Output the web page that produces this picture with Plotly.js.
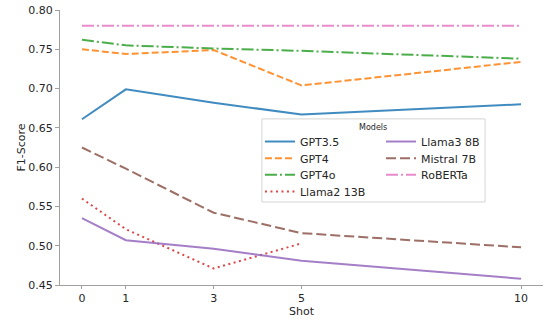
<!DOCTYPE html>
<html>
<head>
<meta charset="utf-8">
<script src="https://cdn.plot.ly/plotly-3.0.1.min.js"></script>
<style>html,body{margin:0;padding:0;background:#fff;}#chart{width:549px;height:320px;}</style>
</head>
<body>
<div id="chart"></div>
<script>
const shots = [0, 1, 3, 5, 10];
const shotsLlama2 = [0, 1, 3, 5];
const gpt35 = [0.661, 0.699, 0.682, 0.667, 0.680];
const gpt4 = [0.750, 0.744, 0.749, 0.704, 0.734];
const gpt4o = [0.762, 0.755, 0.751, 0.748, 0.738];
const llama2 = [0.560, 0.521, 0.471, 0.503];
const llama3 = [0.535, 0.507, 0.496, 0.481, 0.458];
const mistral = [0.625, 0.598, 0.542, 0.516, 0.498];
const roberta = [0.780, 0.780, 0.780, 0.780, 0.780];
const yTicks = [0.45, 0.50, 0.55, 0.60, 0.65, 0.70, 0.75, 0.80];

function tr(name, x, y, color, dash, legend) {
  return {x: x, y: y, name: name, type: 'scatter', mode: 'lines', opacity: 0.85,
    line: {color: color, width: 2, dash: dash}, legend: legend};
}
const data = [
  tr('GPT3.5', shots, gpt35, '#1f77b4', 'solid', 'legend'),
  tr('GPT4', shots, gpt4, '#ff7f0e', '7px,3px', 'legend2'),
  tr('GPT4o', shots, gpt4o, '#2ca02c', '12px,3px,2px,3px', 'legend3'),
  tr('Llama2 13B', shotsLlama2, llama2, '#d62728', '2px,3.5px', 'legend4'),
  tr('Llama3 8B', shots, llama3, '#9467bd', 'solid', 'legend5'),
  tr('Mistral 7B', shots, mistral, '#8c564b', '10px,4px', 'legend6'),
  tr('RoBERTa', shots, roberta, '#e377c2', '12px,3px,2px,3px', 'legend7')
];
const font = {family: 'DejaVu Sans', size: 11, color: '#262626'};
const layout = {
  width: 549, height: 320,
  margin: {l: 60, r: 6, t: 10, b: 35},
  paper_bgcolor: '#fff', plot_bgcolor: '#fff',
  font: font,
  showlegend: true,
  xaxis: {range: [-0.5, 10.5], tickvals: shots, ticktext: shots.map(String),
    showgrid: false, zeroline: false, showline: true, linecolor: '#a0a0a0', linewidth: 1,
    ticks: 'outside', ticklen: 3, tickcolor: '#a0a0a0',
    title: {text: 'Shot', font: font, standoff: 0}},
  yaxis: {range: [0.45, 0.80], tickvals: yTicks, tickformat: '.2f',
    showgrid: false, zeroline: false, showline: true, linecolor: '#a0a0a0', linewidth: 1,
    ticks: 'outside', ticklen: 4, tickcolor: '#a0a0a0',
    title: {text: 'F1-Score', font: font, standoff: 0}},
  shapes: [{type: 'rect', xref: 'paper', yref: 'paper', x0: 0.418, x1: 0.880, y0: 0.302, y1: 0.604,
    line: {color: '#d4d4d4', width: 1}, fillcolor: 'rgba(255,255,255,0.8)', layer: 'above'}],
  annotations: [{text: 'Models', xref: 'paper', yref: 'paper', x: 0.649, y: 0.5745,
    xanchor: 'center', yanchor: 'middle', showarrow: false,
    font: {family: 'DejaVu Sans', size: 8, color: '#262626'}}]
};
const legX = [0.414, 0.414, 0.414, 0.414, 0.6646, 0.6646, 0.6646];
const legY = [0.5745, 0.5138, 0.4535, 0.3927, 0.5745, 0.5138, 0.4535];
const legNames = ['legend', 'legend2', 'legend3', 'legend4', 'legend5', 'legend6', 'legend7'];
legNames.forEach(function (n, i) {
  layout[n] = {x: legX[i], y: legY[i], xanchor: 'left', yanchor: 'top', bgcolor: 'rgba(0,0,0,0)',
    font: font, itemwidth: 30, borderwidth: 0};
});
Plotly.newPlot('chart', data, layout, {displayModeBar: false, staticPlot: true});
</script>
</body>
</html>
